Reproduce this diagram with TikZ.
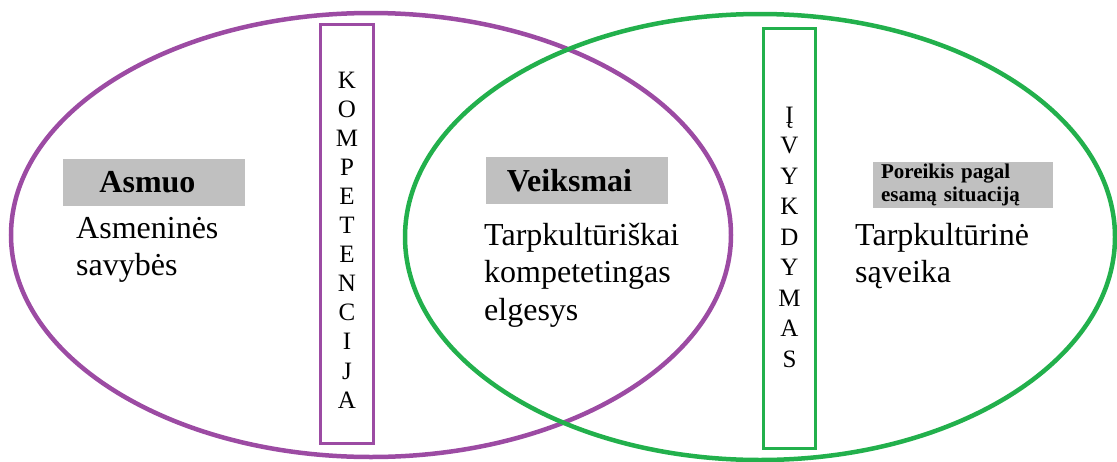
\documentclass[tikz,border=0pt]{standalone}
\usepackage{fontspec}
\setmainfont{Liberation Serif}
\usetikzlibrary{positioning}
\definecolor{venpurple}{RGB}{156,75,163}
\definecolor{vengreen}{RGB}{34,176,76}
\definecolor{headgray}{RGB}{192,192,192}

\begin{document}
\begin{tikzpicture}[x=1pt,y=-1pt,
                    ring/.style={line width=4.5pt},
                    bar node/.style={draw,line width=3.5pt,inner sep=0pt},
                    head node/.style={fill=headgray,minimum width=182pt,minimum height=47pt,inner sep=0pt,font=\fontsize{32}{37}\selectfont\bfseries},
                    text node/.style={anchor=base west,align=left,inner sep=0pt,font=\fontsize{32}{37.5}\selectfont},
                    letter/.style={anchor=base,inner sep=0pt,font=\fontsize{25}{25}\selectfont}]
 \useasboundingbox (0,0) rectangle (1117,461);

 \draw[ring,venpurple] (371,235) ellipse [x radius=360, y radius=222];
 \draw[ring,vengreen] (760,237) ellipse [x radius=355, y radius=223];

 \node[bar node,venpurple,minimum width=53pt,minimum height=419pt] (KompBar) at (347,234) {};
 \node[bar node,vengreen,minimum width=52pt,minimum height=420pt] (IvykBar) at (789.5,238.5) {};

 \foreach \ch [count=\i] in {K,O,M,P,E,T,E,N,C,I,J,A}
    {\node[letter] (k\i) at (347,88+29.1*\i-29.1) {\ch};}

 \foreach \ch [count=\i] in {Į,V,Y,K,D,Y,M,A,S}
    {\node[letter] (v\i) at (789.5,123+30.5*\i-30.5) {\ch};}

 \node[head node] (Asmuo) at (154,182.5) {Asmuo\hspace*{13pt}};
 \node[head node] (Veiksmai) at (576.5,180.5) {Veiksmai\hspace*{14pt}};
 \node[head node,font=\fontsize{21}{23}\selectfont\bfseries,align=left,text width=164pt,minimum width=180pt,minimum height=46pt] (Poreikis) at (963,185) {Poreikis pagal\\esamą situaciją};

 % base of a multi-line node is the baseline of its last line
 \node[text node] (Savybes) at (76,275.5) {Asmeninės\\savybės};
 \node[text node] (Elgesys) at (484,320) {Tarpkultūriškai\\kompetetingas\\elgesys};
 \node[text node] (Saveika) at (855,282.5) {Tarpkultūrinė\\sąveika};

\end{tikzpicture}
\end{document}
